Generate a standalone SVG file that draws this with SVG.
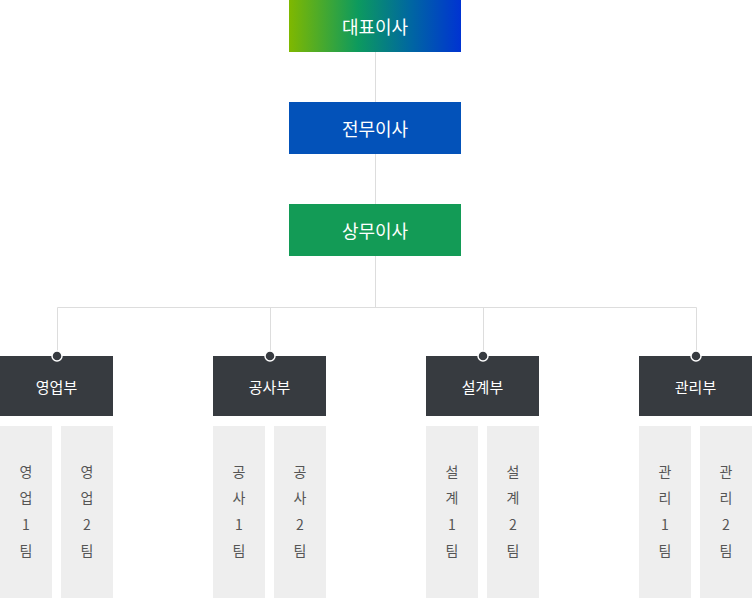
<svg xmlns="http://www.w3.org/2000/svg" width="752" height="598" viewBox="0 0 752 598">
<defs>
<linearGradient id="g" x1="0" y1="0" x2="1" y2="0">
<stop offset="0" stop-color="#7fb800"/>
<stop offset="0.4" stop-color="#0d9a5e"/>
<stop offset="0.7" stop-color="#0068a0"/>
<stop offset="1" stop-color="#0033d2"/>
</linearGradient>
<style>
.t{font-family:"Noto Sans CJK KR","Noto Sans",sans-serif;text-anchor:middle;dominant-baseline:central}
.top{fill:#fff;font-size:18px}
.dep{fill:#373b40}
.dt{fill:#fff;font-size:15px}
.team{fill:#eeeeee}
.tt{fill:#555;font-size:14px}
.ln{stroke:#dddddd;stroke-width:1;fill:none}
.dot{fill:#373b40;stroke:#fff;stroke-width:1.5}
</style>
</defs>
<g id="connectors">
<path class="ln" d="M375.5 52V307M57.5 356V307.5H696.5V356M270.5 307V356M483.5 307V356"/>
</g>
<g id="ceo"><rect x="289" y="0" width="172" height="52" fill="url(#g)"/><text class="t top" x="375" y="26">대표이사</text></g>
<g id="evp"><rect x="289" y="102" width="172" height="52" fill="#0352b9"/><text class="t top" x="375" y="128">전무이사</text></g>
<g id="md"><rect x="289" y="204" width="172" height="52" fill="#139b56"/><text class="t top" x="375" y="230">상무이사</text></g>
<g id="sales"><rect class="dep" x="0" y="356" width="113" height="60"/><circle class="dot" cx="57" cy="356" r="5"/><text class="t dt" x="56.5" y="386">영업부</text></g>
<g id="const"><rect class="dep" x="213" y="356" width="113" height="60"/><circle class="dot" cx="270" cy="356" r="5"/><text class="t dt" x="269.5" y="386">공사부</text></g>
<g id="design"><rect class="dep" x="426" y="356" width="113" height="60"/><circle class="dot" cx="483" cy="356" r="5"/><text class="t dt" x="482.5" y="386">설계부</text></g>
<g id="admin"><rect class="dep" x="639" y="356" width="113" height="60"/><circle class="dot" cx="696" cy="356" r="5"/><text class="t dt" x="695.5" y="386">관리부</text></g>
<g id="sales1"><rect class="team" x="0" y="426" width="52" height="172"/><text class="t tt" x="26"><tspan x="26" y="471">영</tspan><tspan x="26" y="497">업</tspan><tspan x="26" y="524">1</tspan><tspan x="26" y="550">팀</tspan></text></g>
<g id="sales2"><rect class="team" x="61" y="426" width="52" height="172"/><text class="t tt" x="87"><tspan x="87" y="471">영</tspan><tspan x="87" y="497">업</tspan><tspan x="87" y="524">2</tspan><tspan x="87" y="550">팀</tspan></text></g>
<g id="const1"><rect class="team" x="213" y="426" width="52" height="172"/><text class="t tt" x="239"><tspan x="239" y="471">공</tspan><tspan x="239" y="497">사</tspan><tspan x="239" y="524">1</tspan><tspan x="239" y="550">팀</tspan></text></g>
<g id="const2"><rect class="team" x="274" y="426" width="52" height="172"/><text class="t tt" x="300"><tspan x="300" y="471">공</tspan><tspan x="300" y="497">사</tspan><tspan x="300" y="524">2</tspan><tspan x="300" y="550">팀</tspan></text></g>
<g id="design1"><rect class="team" x="426" y="426" width="52" height="172"/><text class="t tt" x="452"><tspan x="452" y="471">설</tspan><tspan x="452" y="497">계</tspan><tspan x="452" y="524">1</tspan><tspan x="452" y="550">팀</tspan></text></g>
<g id="design2"><rect class="team" x="487" y="426" width="52" height="172"/><text class="t tt" x="513"><tspan x="513" y="471">설</tspan><tspan x="513" y="497">계</tspan><tspan x="513" y="524">2</tspan><tspan x="513" y="550">팀</tspan></text></g>
<g id="admin1"><rect class="team" x="639" y="426" width="52" height="172"/><text class="t tt" x="665"><tspan x="665" y="471">관</tspan><tspan x="665" y="497">리</tspan><tspan x="665" y="524">1</tspan><tspan x="665" y="550">팀</tspan></text></g>
<g id="admin2"><rect class="team" x="700" y="426" width="52" height="172"/><text class="t tt" x="726"><tspan x="726" y="471">관</tspan><tspan x="726" y="497">리</tspan><tspan x="726" y="524">2</tspan><tspan x="726" y="550">팀</tspan></text></g>
</svg>
